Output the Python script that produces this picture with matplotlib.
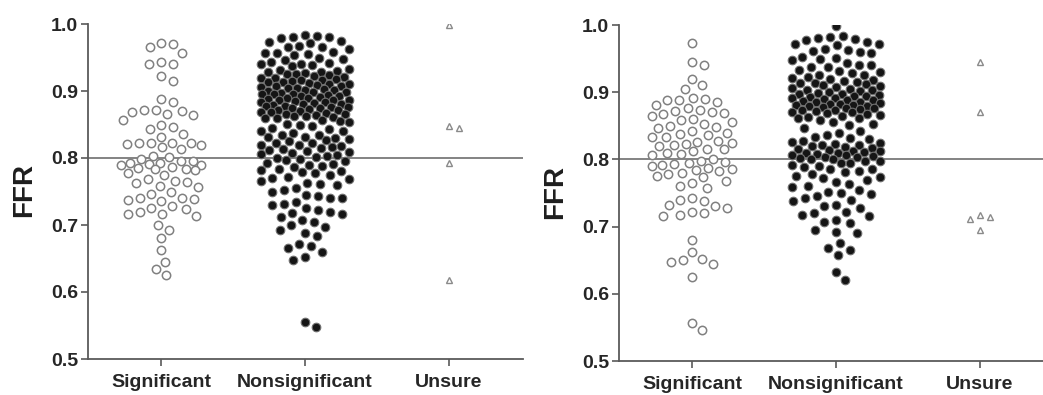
import numpy as np
import matplotlib
matplotlib.use('Agg')
import matplotlib.pyplot as plt

plt.rcParams['font.family'] = ['Liberation Sans', 'DejaVu Sans']
plt.rcParams['font.weight'] = 'bold'

groups = ['Significant', 'Nonsignificant', 'Unsure']
cutoff = 0.80

# FFR values, left panel
sig_a = [0.972, 0.970, 0.965, 0.957,
         0.943, 0.941, 0.940,
         0.922, 0.915,
         0.888, 0.883,
         0.872, 0.870, 0.868, 0.866, 0.864, 0.871,
         0.856,
         0.850, 0.846, 0.844,
         0.836, 0.832,
         0.823, 0.822, 0.821, 0.822, 0.820, 0.823,
         0.816, 0.814,
         0.803, 0.801, 0.799,
         0.796, 0.793, 0.792, 0.791, 0.790, 0.790, 0.795,
         0.786, 0.785, 0.783, 0.782, 0.784,
         0.777, 0.775,
         0.768, 0.766, 0.764, 0.762,
         0.758, 0.756,
         0.749, 0.746,
         0.740, 0.739, 0.738, 0.736, 0.741,
         0.728, 0.726, 0.724,
         0.719, 0.717, 0.716, 0.714,
         0.700, 0.693,
         0.680, 0.662, 0.645, 0.634, 0.625]

non_a = [0.983, 0.982, 0.981, 0.980, 0.979,
         0.975, 0.973, 0.972,
         0.967, 0.966, 0.965, 0.963,
         0.958, 0.957, 0.956, 0.955, 0.954,
         0.950, 0.948, 0.947,
         0.943, 0.942, 0.941, 0.940, 0.939, 0.938,
         0.933, 0.932, 0.930, 0.929, 0.928, 0.927, 0.926,
         0.925, 0.924, 0.922, 0.921, 0.920, 0.919, 0.918, 0.917, 0.916,
         0.915, 0.914, 0.913, 0.912, 0.911, 0.910, 0.909, 0.908, 0.907, 0.906,
         0.905, 0.904, 0.903, 0.902, 0.901, 0.900, 0.899, 0.898, 0.897, 0.896, 0.896,
         0.895, 0.894, 0.893, 0.892, 0.891, 0.890, 0.889, 0.888, 0.887, 0.886, 0.886,
         0.885, 0.884, 0.883, 0.882, 0.881, 0.880, 0.879, 0.878, 0.877, 0.876, 0.876,
         0.875, 0.874, 0.873, 0.872, 0.871, 0.870, 0.869, 0.868, 0.867, 0.866,
         0.865, 0.864, 0.863, 0.862, 0.861, 0.860, 0.859, 0.857,
         0.855, 0.853, 0.851, 0.850, 0.848,
         0.845, 0.843, 0.841, 0.840, 0.838,
         0.835, 0.834, 0.832, 0.831, 0.830, 0.828, 0.827,
         0.825, 0.823, 0.822, 0.820, 0.819, 0.818, 0.817,
         0.815, 0.813, 0.812, 0.810, 0.809, 0.808, 0.806,
         0.804, 0.803, 0.801, 0.800, 0.798, 0.797,
         0.795, 0.793, 0.791, 0.790, 0.788, 0.787,
         0.784, 0.782, 0.780, 0.779, 0.777,
         0.774, 0.772, 0.770, 0.768, 0.766,
         0.763, 0.761, 0.759,
         0.755, 0.752, 0.750,
         0.745, 0.743, 0.741, 0.740,
         0.735, 0.732, 0.730,
         0.725, 0.722, 0.720, 0.718, 0.716,
         0.712, 0.708, 0.705,
         0.700, 0.697, 0.693,
         0.688, 0.684,
         0.672, 0.668, 0.665, 0.660,
         0.652, 0.648,
         0.555, 0.548]

uns_a = [0.998, 0.845, 0.848, 0.792, 0.618]

# FFR values, right panel
sig_b = [0.973,
         0.945, 0.940,
         0.920, 0.910, 0.905,
         0.892, 0.890, 0.889, 0.888, 0.886,
         0.881,
         0.876, 0.874, 0.872, 0.870, 0.869, 0.867, 0.865,
         0.860, 0.858, 0.856,
         0.852, 0.850, 0.848, 0.846,
         0.842, 0.840, 0.838, 0.836, 0.834, 0.833,
         0.828, 0.826, 0.825, 0.823, 0.822, 0.820,
         0.816, 0.815, 0.812,
         0.810, 0.808, 0.806,
         0.800, 0.798, 0.796, 0.795, 0.793, 0.792, 0.790,
         0.787, 0.785, 0.784, 0.782, 0.780,
         0.778, 0.776, 0.774,
         0.768, 0.765,
         0.760, 0.757,
         0.742, 0.740, 0.738,
         0.732, 0.730, 0.728,
         0.722, 0.720, 0.718, 0.716,
         0.680,
         0.662, 0.652, 0.650, 0.648, 0.645,
         0.625,
         0.556, 0.546]

non_b = [0.998,
         0.983, 0.982, 0.980, 0.979, 0.978,
         0.974, 0.972, 0.971, 0.970,
         0.965, 0.963, 0.962, 0.960, 0.958,
         0.953, 0.951, 0.950, 0.948,
         0.943, 0.941, 0.940, 0.938, 0.937,
         0.933, 0.931, 0.930, 0.928, 0.926, 0.925,
         0.922, 0.921, 0.919, 0.918, 0.916, 0.915, 0.914, 0.913,
         0.912, 0.911, 0.909, 0.908, 0.906, 0.905, 0.904, 0.903, 0.902,
         0.900, 0.899, 0.898, 0.897, 0.896, 0.895, 0.894, 0.893, 0.892, 0.891,
         0.890, 0.889, 0.888, 0.887, 0.886, 0.885, 0.884, 0.883, 0.882, 0.881, 0.881,
         0.880, 0.879, 0.878, 0.877, 0.876, 0.875, 0.874, 0.873, 0.872, 0.871,
         0.870, 0.869, 0.867, 0.866, 0.865, 0.863, 0.862, 0.861,
         0.858, 0.856, 0.853, 0.851,
         0.846, 0.843, 0.840,
         0.836, 0.834, 0.832, 0.830, 0.828,
         0.826, 0.825, 0.823, 0.822, 0.821, 0.820,
         0.818, 0.817, 0.815, 0.814, 0.813, 0.812, 0.811, 0.810, 0.810,
         0.808, 0.807, 0.806, 0.805, 0.804, 0.803, 0.802, 0.801,
         0.800, 0.798, 0.797, 0.795, 0.794, 0.792,
         0.790, 0.788, 0.786, 0.785, 0.783, 0.781,
         0.778, 0.776, 0.774, 0.772, 0.770,
         0.766, 0.764, 0.761, 0.759,
         0.755, 0.752, 0.750, 0.748,
         0.745, 0.742, 0.740, 0.738,
         0.732, 0.730, 0.727,
         0.722, 0.720, 0.718, 0.716,
         0.710, 0.707, 0.705,
         0.695, 0.692, 0.690,
         0.675, 0.668, 0.665, 0.657,
         0.632, 0.621]

uns_b = [0.945, 0.870, 0.715, 0.695, 0.712, 0.718]

W, H = 1043, 395


def swarm(vals, px_y, d=12.0, half_w=44.0, step=0.5):
    """x offsets (pixels) of a beeswarm, squeezed into +/- half_w"""
    y = np.asarray(vals) * px_y
    cands = [0.0]
    k = step
    while k <= half_w:
        cands += [k, -k]
        k += step
    cands = np.array(cands)
    off = np.zeros(len(y))
    done = []
    for i in np.argsort(-y):
        if not done:
            off[i] = 0.0
            done.append(i)
            continue
        px = off[done]
        py = y[done]
        dist = np.sqrt((cands[:, None] - px[None, :])**2 + (y[i] - py[None, :])**2).min(axis=1)
        ok = np.where(dist >= d)[0]
        off[i] = cands[ok[0]] if len(ok) else cands[np.argmax(dist)]
        done.append(i)
    return off


def panel(rect, xmax, sig, non, uns):
    ax = fig.add_axes(rect)
    ax.set_xlim(-0.507, xmax)
    ax.set_ylim(0.5, 1.0)
    px_x = rect[2] * W / (xmax + 0.507)
    px_y = rect[3] * H / 0.5

    ax.axhline(cutoff, color='#7a7a7a', lw=1.3, zorder=1)

    o = swarm(sig, px_y, half_w=40) / px_x
    ax.plot(0 + o, sig, 'o', ms=6.0, mfc='white', mec='#808080', mew=1.1, zorder=3)
    o = swarm(non, px_y) / px_x
    ax.plot(1 + o, non, 'o', ms=6.2, mfc='#151515', mec='#707070', mew=0.8, zorder=3)
    o = swarm(uns, px_y, d=10) / px_x
    ax.plot(2 + o, uns, '^', ms=5.0, mfc='white', mec='#8a8a8a', mew=1.0, zorder=3)

    for s in ['top', 'right']:
        ax.spines[s].set_visible(False)
    for s in ['left', 'bottom']:
        ax.spines[s].set_color('#5a5a5a')
        ax.spines[s].set_linewidth(1.3)
    ax.set_yticks(np.arange(0.5, 1.01, 0.1))
    ax.set_yticklabels(['%.1f' % v for v in np.arange(0.5, 1.01, 0.1)])
    ax.set_xticks([0, 1, 2])
    ax.set_xticklabels(groups)
    ax.tick_params(axis='both', direction='out', length=5, width=1.2, color='#5a5a5a',
                   labelcolor='#262626', labelsize=14, pad=2)
    ax.tick_params(axis='x', pad=6)
    return ax


fig = plt.figure(figsize=(W / 100, H / 100), dpi=100)

ax1 = panel([88 / W, 1 - 359 / H, (523 - 88) / W, (359 - 24) / H], 2.514, sig_a, non_a, uns_a)
ax2 = panel([619 / W, 1 - 361 / H, (1043 - 619) / W, (361 - 25) / H], 2.44, sig_b, non_b, uns_b)

fig.text(24 / W, 1 - 190 / H, 'FFR', rotation=90, ha='center', va='center',
         fontsize=20, fontweight='bold', color='#1e1e1e')
fig.text(555 / W, 1 - 192 / H, 'FFR', rotation=90, ha='center', va='center',
         fontsize=20, fontweight='bold', color='#1e1e1e')

plt.savefig('out.png', dpi=100)
